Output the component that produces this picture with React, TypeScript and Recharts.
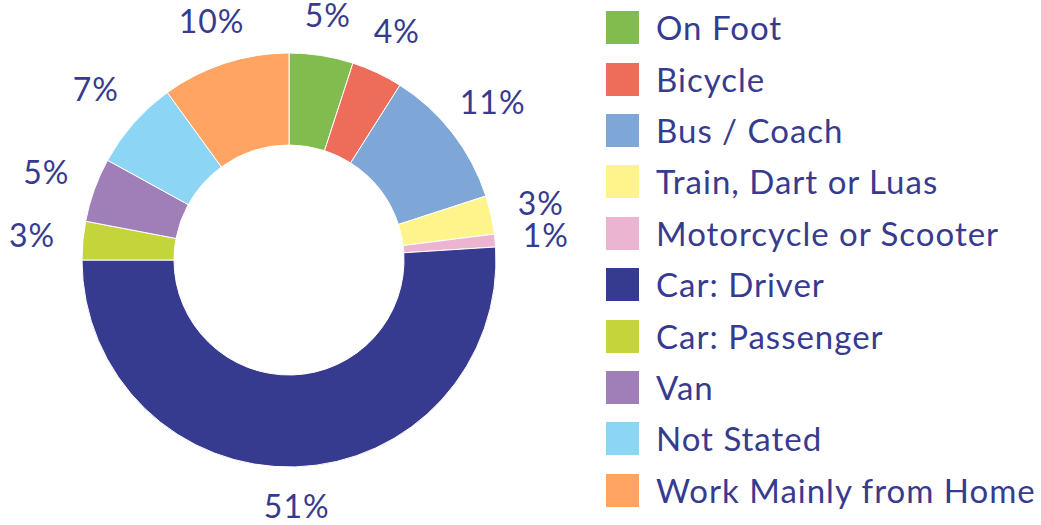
import { Cell, Legend, Pie, PieChart } from "recharts";

const categories = [
  "On Foot",
  "Bicycle",
  "Bus / Coach",
  "Train, Dart or Luas",
  "Motorcycle or Scooter",
  "Car: Driver",
  "Car: Passenger",
  "Van",
  "Not Stated",
  "Work Mainly from Home",
];

const shares = [5, 4, 11, 3, 1, 51, 3, 5, 7, 10];

const colors = [
  "#82bc4e",
  "#ed6d5a",
  "#7ea6d6",
  "#fff48b",
  "#ebb5d1",
  "#373b8f",
  "#c3d53b",
  "#a07eb8",
  "#8cd5f5",
  "#ffa463",
];

const TEXT = "#373b8f";
const FONT = "Lato, 'Noto Sans', sans-serif";
const RAD = Math.PI / 180;

const data = categories.map((name, i) => ({ name, value: shares[i] }));

// labels sit a bit closer to the ring at top and bottom than at the sides
function renderLabel(props: any) {
  const { cx, cy, midAngle, value } = props;
  const text = `${value}%`;
  const ux = Math.cos(-midAngle * RAD);
  const uy = Math.sin(-midAngle * RAD);
  const r = 258 - 11 * Math.pow(Math.abs(uy), 8);
  return (
    <text
      x={cx + ux * r}
      y={cy + uy * r}
      dy="0.36em"
      textAnchor="middle"
      fill={TEXT}
      fontFamily={FONT}
      fontSize={32}
      letterSpacing={1}
    >
      {text}
    </text>
  );
}

// legend keeps the data order (recharts would sort it by name)
function LegendList() {
  return (
    <div style={{ fontFamily: FONT }}>
      {categories.map((name, i) => (
        <div
          key={name}
          style={{ display: "flex", alignItems: "center", height: 51.4 }}
        >
          <span
            style={{
              width: 33,
              height: 33,
              background: colors[i],
              display: "inline-block",
              marginRight: 17,
              flex: "none",
            }}
          />
          <span
            style={{
              color: TEXT,
              fontSize: 33,
              letterSpacing: 1,
              whiteSpace: "nowrap",
              lineHeight: "33px",
            }}
          >
            {name}
          </span>
        </div>
      ))}
    </div>
  );
}

export default function App() {
  return (
    <div style={{ position: "absolute", left: 0, top: 0, background: "#fff" }}>
      <PieChart
        width={1041}
        height={525}
        margin={{ top: 0, right: 0, bottom: 0, left: 0 }}
      >
        <Pie
          data={data}
          dataKey="value"
          nameKey="name"
          cx={289}
          cy={260}
          innerRadius={115}
          outerRadius={207}
          startAngle={90}
          endAngle={-270}
          stroke="#ffffff"
          strokeWidth={1}
          label={renderLabel}
          labelLine={false}
          isAnimationActive={false}
        >
          {data.map((d, i) => (
            <Cell key={d.name} fill={colors[i]} />
          ))}
        </Pie>
        <Legend
          layout="vertical"
          align="right"
          verticalAlign="top"
          content={<LegendList />}
          wrapperStyle={{ left: 606, top: 2, width: 435 }}
        />
      </PieChart>
    </div>
  );
}
